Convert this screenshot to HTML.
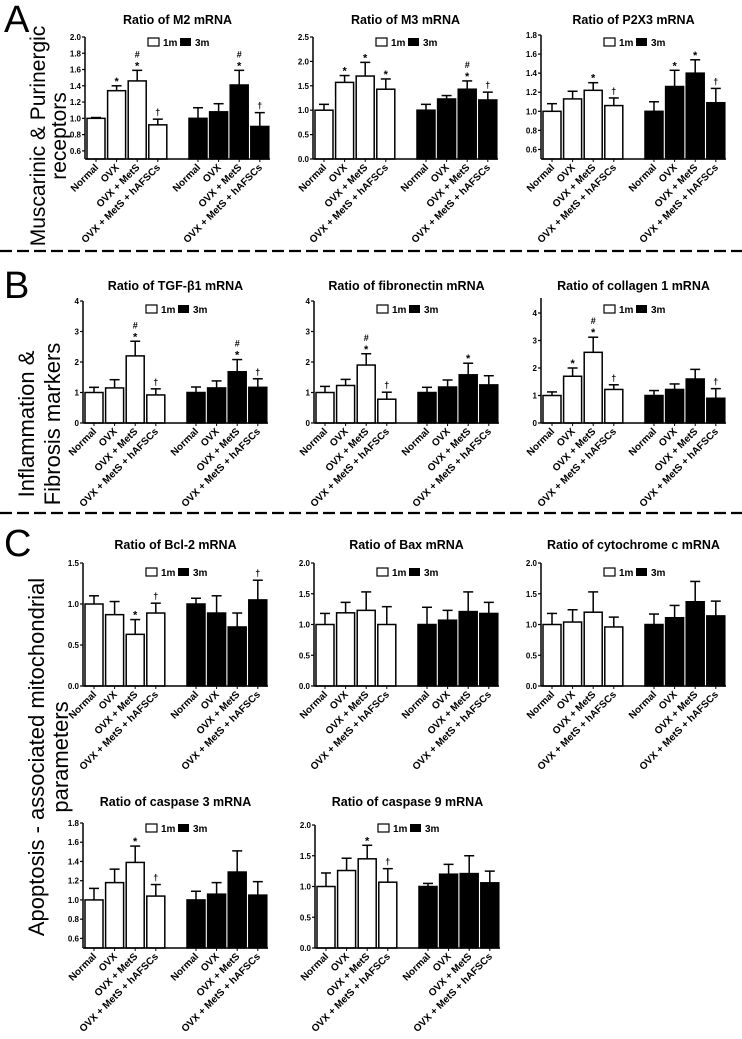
<!DOCTYPE html>
<html><head><meta charset="utf-8"><style>
body{margin:0;background:#fff;}
svg{display:block;font-family:"Liberation Sans",sans-serif;}
</style></head><body>
<svg id="fig" width="742" height="1039" viewBox="0 0 742 1039" xmlns="http://www.w3.org/2000/svg">
<text x="4" y="32" font-size="38">A</text>
<text x="4" y="298" font-size="38">B</text>
<text x="4" y="556" font-size="38">C</text>
<g font-size="21">
<text transform="translate(45,136) rotate(-90)" text-anchor="middle">Muscarinic &amp; Purinergic</text>
<text transform="translate(66,136) rotate(-90)" text-anchor="middle">receptors</text></g>
<g font-size="22">
<text transform="translate(34,424) rotate(-90)" text-anchor="middle">Inflammation &amp;</text>
<text transform="translate(60,424) rotate(-90)" text-anchor="middle">Fibrosis markers</text></g>
<g font-size="22">
<text transform="translate(44,757) rotate(-90)" text-anchor="middle">Apoptosis - associated mitochondrial</text>
<text transform="translate(68,757) rotate(-90)" text-anchor="middle">parameters</text></g>
<line x1="0" y1="251" x2="742" y2="251" stroke="#000" stroke-width="2.2" stroke-dasharray="12,5"/>
<line x1="0" y1="513" x2="742" y2="513" stroke="#000" stroke-width="2.2" stroke-dasharray="12,5"/>
</svg>
<script>
const categories=["Normal","OVX","OVX + MetS","OVX + MetS + hAFSCs"];
// M2
const m2_1m=[1.00,1.34,1.46,0.92], m2_1mErr=[0.01,0.06,0.13,0.07];
const m2_3m=[1.00,1.08,1.41,0.90], m2_3mErr=[0.13,0.10,0.18,0.17];
const m2_1mAnn=["","*","#\n*","†"], m2_3mAnn=["","","#\n*","†"];
const m2_ticks=[0.6,0.8,1.0,1.2,1.4,1.6,1.8,2.0];
// M3
const m3_1m=[1.00,1.57,1.70,1.43], m3_1mErr=[0.12,0.14,0.28,0.21];
const m3_3m=[1.00,1.23,1.43,1.21], m3_3mErr=[0.12,0.07,0.17,0.16];
const m3_1mAnn=["","*","*","*"], m3_3mAnn=["","","#\n*","†"];
const m3_ticks=[0.0,0.5,1.0,1.5,2.0,2.5];
// P2X3
const p2_1m=[1.00,1.13,1.22,1.06], p2_1mErr=[0.08,0.08,0.08,0.08];
const p2_3m=[1.00,1.26,1.40,1.09], p2_3mErr=[0.10,0.17,0.14,0.15];
const p2_1mAnn=["","","*","†"], p2_3mAnn=["","*","*","†"];
const p2_ticks=[0.6,0.8,1.0,1.2,1.4,1.6,1.8];
// TGF
const tgf_1m=[1.00,1.15,2.20,0.92], tgf_1mErr=[0.17,0.27,0.48,0.20];
const tgf_3m=[1.00,1.15,1.68,1.17], tgf_3mErr=[0.18,0.23,0.40,0.28];
const tgf_1mAnn=["","","#\n*","†"], tgf_3mAnn=["","","#\n*","†"];
const b_ticks=[0,1,2,3,4];
// fibronectin
const fn_1m=[1.00,1.23,1.90,0.78], fn_1mErr=[0.20,0.20,0.37,0.23];
const fn_3m=[1.00,1.18,1.58,1.25], fn_3mErr=[0.17,0.23,0.38,0.30];
const fn_1mAnn=["","","#\n*","†"], fn_3mAnn=["","","*",""];
// collagen
const col_1m=[1.00,1.70,2.57,1.22], col_1mErr=[0.13,0.30,0.55,0.17];
const col_3m=[1.00,1.22,1.60,0.90], col_3mErr=[0.18,0.20,0.35,0.35];
const col_1mAnn=["","*","#\n*","†"], col_3mAnn=["","","","†"];
// Bcl-2
const bcl_1m=[1.00,0.87,0.63,0.89], bcl_1mErr=[0.10,0.16,0.18,0.12];
const bcl_3m=[1.00,0.89,0.72,1.05], bcl_3mErr=[0.07,0.21,0.17,0.24];
const bcl_1mAnn=["","","*","†"], bcl_3mAnn=["","","","†"];
const bcl_ticks=[0.0,0.5,1.0,1.5];
// Bax
const bax_1m=[1.00,1.19,1.23,1.00], bax_1mErr=[0.18,0.17,0.30,0.29];
const bax_3m=[1.00,1.07,1.21,1.18], bax_3mErr=[0.28,0.16,0.32,0.18];
const none=["","","",""];
const c2_ticks=[0.0,0.5,1.0,1.5,2.0];
// cytochrome c
const cyt_1m=[1.00,1.04,1.20,0.96], cyt_1mErr=[0.18,0.20,0.33,0.16];
const cyt_3m=[1.00,1.11,1.37,1.14], cyt_3mErr=[0.17,0.20,0.33,0.24];
// caspase 3
const cas3_1m=[1.00,1.18,1.39,1.04], cas3_1mErr=[0.12,0.14,0.17,0.12];
const cas3_3m=[1.00,1.06,1.29,1.05], cas3_3mErr=[0.09,0.12,0.22,0.14];
const cas3_1mAnn=["","","*","†"];
const cas3_ticks=[0.6,0.8,1.0,1.2,1.4,1.6,1.8];
// caspase 9
const cas9_1m=[1.00,1.26,1.45,1.07], cas9_1mErr=[0.22,0.20,0.22,0.22];
const cas9_3m=[1.00,1.20,1.21,1.06], cas9_3mErr=[0.05,0.16,0.29,0.19];
const cas9_1mAnn=["","","*","†"];

const NS="http://www.w3.org/2000/svg";
const svg=document.getElementById('fig');
function mk(tag,attrs,parent){const e=document.createElementNS(NS,tag);for(const k in attrs)e.setAttribute(k,attrs[k]);parent.appendChild(e);return e;}

function panel(cfg){
  const g=mk('g',{},svg);
  
  
  const y=v=>cfg.yBase-(v-cfg.ymin)/(cfg.ymax-cfg.ymin)*(cfg.yBase-cfg.yTop);
  const L=cfg.layout;
  const bx=(grp,i)=>cfg.ax+L.start+grp*L.g2+i*L.pitch;
  const t=mk('text',{x:cfg.ax+L.axLen/2,y:cfg.titleY,'text-anchor':'middle','font-size':12.5,'font-weight':'bold'},g);
  
  
  t.textContent=cfg.title;
  [[cfg.v1,cfg.e1,cfg.a1,'#fff'],[cfg.v2,cfg.e2,cfg.a2,'#000']].forEach((s,grp)=>{
    s[0].forEach((v,i)=>{
      const x=bx(grp,i), cx=x+L.w/2, top=y(v), et=y(v+s[1][i]);
      const el=mk('line',{x1:cx,y1:top,x2:cx,y2:et,stroke:'#000','stroke-width':1.5},g);
      
      
      mk('line',{x1:cx-5,y1:et,x2:cx+5,y2:et,stroke:'#000','stroke-width':1.5},g);
      const r=mk('rect',{x:x,y:top,width:L.w,height:cfg.yBase-top,fill:s[3],stroke:'#000','stroke-width':1.5},g);
      
      
      const ann=s[2][i];
      if(ann){const lines=ann.split('\n');lines.forEach((ln,k)=>{
        const a=mk('text',{x:cx,y:et-4-(lines.length-1-k)*9+(ln=='*'?3:0),'text-anchor':'middle','font-size':ln=='*'?11:9,'font-weight':'bold'},g);
        
        
        a.textContent=ln;});}
      const lb=mk('text',{transform:`translate(${cx+3},${cfg.yBase+9}) rotate(-45)`,'text-anchor':'end','font-size':10,'font-weight':'bold'},g);
      
      
      lb.textContent=categories[i];
    });
  });
  const yax=mk('line',{x1:cfg.ax,y1:cfg.axTop!==undefined?cfg.axTop:cfg.yTop,x2:cfg.ax,y2:cfg.yBase,stroke:'#000','stroke-width':1.5},g);
  
  
  const xax=mk('line',{x1:cfg.ax,y1:cfg.yBase,x2:cfg.ax+L.axLen,y2:cfg.yBase,stroke:'#000','stroke-width':1.5},g);
  
  
  for(let grp=0;grp<2;grp++)for(let i=0;i<4;i++){const cx=bx(grp,i)+L.w/2;mk('line',{x1:cx,y1:cfg.yBase,x2:cx,y2:cfg.yBase+3,stroke:'#000','stroke-width':1},g);}
  cfg.ticks.forEach(tv=>{
    const ty=y(tv);
    mk('line',{x1:cfg.ax-3,y1:ty,x2:cfg.ax,y2:ty,stroke:'#000','stroke-width':1.2},g);
    const tl=mk('text',{x:cfg.ax-4,y:ty+3,'text-anchor':'end','font-size':8,'font-weight':'bold'},g);
    
    
    tl.textContent=cfg.dec===0?String(tv):tv.toFixed(1);
  });
  const lx=cfg.ax+L.legX, ly=cfg.legY;
  const lg=mk('g',{},g);
  
  
  mk('rect',{x:lx,y:ly,width:11,height:8,fill:'#fff',stroke:'#000','stroke-width':1.2},lg);
  const t1=mk('text',{x:lx+15,y:ly+8,'font-size':10,'font-weight':'bold'},lg);t1.textContent='1m';
  mk('rect',{x:lx+32,y:ly,width:11,height:8,fill:'#000'},lg);
  const t2=mk('text',{x:lx+47,y:ly+8,'font-size':10,'font-weight':'bold'},lg);t2.textContent='3m';
}
const LA={start:2,pitch:20.6,w:18,g2:102,axLen:185,legX:63};
const aY={yTop:37,yBase:159,titleY:24,legY:38};
panel({name:'chart-m2',title:'Ratio of M2 mRNA',ax:85,...aY,ymin:0.5,ymax:2.0,ticks:m2_ticks,layout:LA,v1:m2_1m,e1:m2_1mErr,v2:m2_3m,e2:m2_3mErr,a1:m2_1mAnn,a2:m2_3mAnn});
panel({name:'chart-m3',title:'Ratio of M3 mRNA',ax:313,...aY,ymin:0,ymax:2.5,ticks:m3_ticks,layout:LA,v1:m3_1m,e1:m3_1mErr,v2:m3_3m,e2:m3_3mErr,a1:m3_1mAnn,a2:m3_3mAnn});
panel({name:'chart-p2x3',title:'Ratio of P2X3 mRNA',ax:541,yTop:35,yBase:159,titleY:24,legY:38,ymin:0.5,ymax:1.8,ticks:p2_ticks,layout:LA,v1:p2_1m,e1:p2_1mErr,v2:p2_3m,e2:p2_3mErr,a1:p2_1mAnn,a2:p2_3mAnn});
const bY={yTop:301,yBase:423,titleY:290,legY:305,dec:0};
panel({name:'chart-tgf-b1',title:'Ratio of TGF-β1 mRNA',ax:83,...bY,ymin:0,ymax:4,ticks:b_ticks,layout:LA,v1:tgf_1m,e1:tgf_1mErr,v2:tgf_3m,e2:tgf_3mErr,a1:tgf_1mAnn,a2:tgf_3mAnn});
panel({name:'chart-fibronectin',title:'Ratio of fibronectin mRNA',ax:314,...bY,ymin:0,ymax:4,ticks:b_ticks,layout:LA,v1:fn_1m,e1:fn_1mErr,v2:fn_3m,e2:fn_3mErr,a1:fn_1mAnn,a2:fn_3mAnn});
panel({name:'chart-collagen-1',title:'Ratio of collagen 1 mRNA',ax:541,...bY,yTop:313,axTop:298,ymin:0,ymax:4,ticks:b_ticks,layout:LA,v1:col_1m,e1:col_1mErr,v2:col_3m,e2:col_3mErr,a1:col_1mAnn,a2:col_3mAnn});
const cY={yTop:563,yBase:686,titleY:549,legY:568};
panel({name:'chart-bcl-2',title:'Ratio of Bcl-2 mRNA',ax:83,...cY,ymin:0,ymax:1.5,ticks:bcl_ticks,layout:LA,v1:bcl_1m,e1:bcl_1mErr,v2:bcl_3m,e2:bcl_3mErr,a1:bcl_1mAnn,a2:bcl_3mAnn});
panel({name:'chart-bax',title:'Ratio of Bax mRNA',ax:314,...cY,ymin:0,ymax:2.0,ticks:c2_ticks,layout:LA,v1:bax_1m,e1:bax_1mErr,v2:bax_3m,e2:bax_3mErr,a1:none,a2:none});
panel({name:'chart-cytochrome-c',title:'Ratio of cytochrome c mRNA',ax:541,...cY,ymin:0,ymax:2.0,ticks:c2_ticks,layout:LA,v1:cyt_1m,e1:cyt_1mErr,v2:cyt_3m,e2:cyt_3mErr,a1:none,a2:none});
panel({name:'chart-caspase-3',title:'Ratio of caspase 3 mRNA',ax:83,yTop:823,yBase:948,titleY:806,legY:824,ymin:0.5,ymax:1.8,ticks:cas3_ticks,layout:LA,v1:cas3_1m,e1:cas3_1mErr,v2:cas3_3m,e2:cas3_3mErr,a1:cas3_1mAnn,a2:none});
panel({name:'chart-caspase-9',title:'Ratio of caspase 9 mRNA',ax:315,yTop:825,yBase:948,titleY:806,legY:824,ymin:0,ymax:2.0,ticks:c2_ticks,layout:LA,v1:cas9_1m,e1:cas9_1mErr,v2:cas9_3m,e2:cas9_3mErr,a1:cas9_1mAnn,a2:none});
</script>
</body></html>
